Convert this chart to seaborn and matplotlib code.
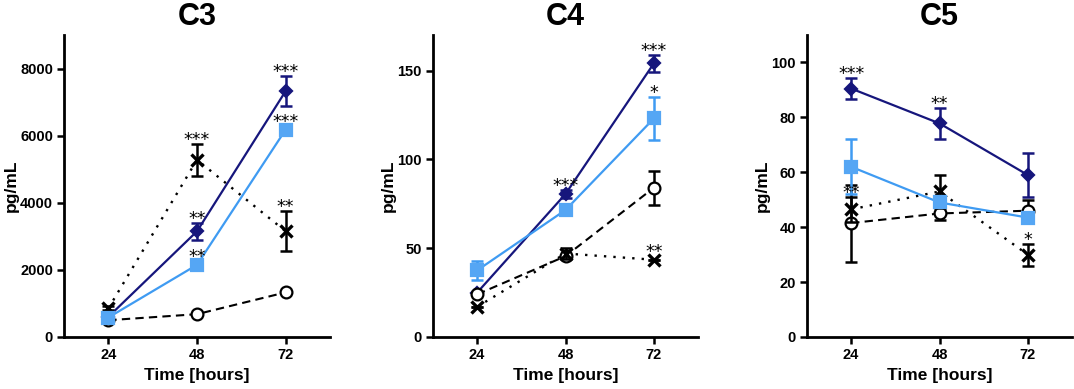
import numpy as np
import pandas as pd
import matplotlib
matplotlib.use("Agg")
import matplotlib.pyplot as plt
import seaborn as sns

sns.set_theme(style="ticks")
plt.rcParams['font.family'] = ['Liberation Sans', 'DejaVu Sans']
plt.rcParams['text.color'] = 'black'
plt.rcParams['axes.labelcolor'] = 'black'
plt.rcParams['axes.titlecolor'] = 'black'

hours = [24, 48, 72]
panels = ["C3", "C4", "C5"]
series = ["navy", "light", "cross", "circle"]

# values per panel / series
c3_navy = [600, 3150, 7330]
c3_navy_err = [60, 250, 450]
c3_light = [580, 2150, 6180]
c3_light_err = [0, 0, 0]
c3_cross = [850, 5280, 3150]
c3_cross_err = [60, 470, 600]
c3_circle = [500, 680, 1330]
c3_circle_err = [0, 0, 0]

c4_navy = [25, 80.5, 154]
c4_navy_err = [0, 2, 5]
c4_light = [37.5, 71.5, 123]
c4_light_err = [5.5, 1, 12]
c4_cross = [17, 47, 43.5]
c4_cross_err = [0, 3, 0]
c4_circle = [24, 45.5, 84]
c4_circle_err = [0, 0, 9.5]

c5_navy = [90.5, 77.8, 59]
c5_navy_err = [3.7, 5.7, 8]
c5_light = [62, 49, 43.5]
c5_light_err = [10, 1, 1]
c5_cross = [46.5, 53, 30]
c5_cross_err = [4.5, 6, 4]
c5_circle = [41.5, 45, 46]
c5_circle_err = [14, 2.5, 4]

# significance stars: (series, hour index, label)
c3_stars = [("navy", 1, "**"), ("navy", 2, "***"), ("light", 1, "**"),
            ("light", 2, "***"), ("cross", 1, "***"), ("cross", 2, "**")]
c4_stars = [("navy", 1, "***"), ("navy", 2, "***"), ("light", 2, "*"),
            ("cross", 2, "**")]
c5_stars = [("navy", 0, "***"), ("navy", 1, "**"), ("cross", 0, "**"),
            ("cross", 2, "*")]

y_limits = [(0, 9000), (0, 170), (0, 110)]
y_ticks = [[0, 2000, 4000, 6000, 8000], [0, 50, 100, 150], [0, 20, 40, 60, 80, 100]]

data = {
    "C3": {"navy": (c3_navy, c3_navy_err), "light": (c3_light, c3_light_err),
           "cross": (c3_cross, c3_cross_err), "circle": (c3_circle, c3_circle_err)},
    "C4": {"navy": (c4_navy, c4_navy_err), "light": (c4_light, c4_light_err),
           "cross": (c4_cross, c4_cross_err), "circle": (c4_circle, c4_circle_err)},
    "C5": {"navy": (c5_navy, c5_navy_err), "light": (c5_light, c5_light_err),
           "cross": (c5_cross, c5_cross_err), "circle": (c5_circle, c5_circle_err)},
}
stars = {"C3": c3_stars, "C4": c4_stars, "C5": c5_stars}

NAVY = "#16167c"
LIGHT = "#3f9bf2"
LIGHT_M = "#55a6f4"
styles = {
    "navy": dict(color=NAVY, marker="D", ms=6.5, mfc=NAVY, mec=NAVY, ls="-", lw=1.6, z=3, ecol=NAVY),
    "circle": dict(color="black", marker="o", ms=8.5, mfc="white", mec="black", ls=(0, (4, 2.5)), lw=1.5, z=4, ecol="black"),
    "cross": dict(color="black", marker="x", ms=8, mfc="black", mec="black", ls=(0, (1, 3)), lw=1.7, z=5, ecol="black"),
    "light": dict(color=LIGHT, marker="s", ms=8, mfc=LIGHT_M, mec=LIGHT_M, ls="-", lw=1.6, z=6, ecol=LIGHT),
}
order = ["navy", "circle", "cross", "light"]

fig = plt.figure(figsize=(10.74, 3.89), dpi=100)
lefts = [64, 433, 807]
rights = [330, 698, 1072]
W, H = 1074, 389
bottom_px, top_px = 337, 35

for i, p in enumerate(panels):
    ax = fig.add_axes([lefts[i] / W, 1 - bottom_px / H, (rights[i] - lefts[i]) / W,
                       (bottom_px - top_px) / H])
    for s in order:
        vals, errs = data[p][s]
        st = styles[s]
        df = pd.DataFrame({"hour": hours, "value": vals})
        ax.errorbar(hours, vals, yerr=errs, fmt="none", ecolor=st["ecol"], elinewidth=1.8,
                    capsize=4.5, capthick=1.8, zorder=st["z"] - 0.5)
        sns.lineplot(data=df, x="hour", y="value", ax=ax, color=st["color"], lw=st["lw"],
                     linestyle=st["ls"], marker=st["marker"], markersize=st["ms"],
                     markerfacecolor=st["mfc"], markeredgecolor=st["mec"],
                     markeredgewidth=2.4 if s == "cross" else 1.6, zorder=st["z"])
    ax.set_xlim(12, 84)
    ax.set_ylim(*y_limits[i])
    ax.set_xticks(hours)
    ax.set_yticks(y_ticks[i])
    ax.set_xticklabels([str(h) for h in hours], fontsize=10.5, fontweight="bold")
    ax.set_yticklabels([str(t) for t in y_ticks[i]], fontsize=10.5, fontweight="bold")
    ax.tick_params(direction="out", length=5, width=1.8, colors="black", pad=3)
    for sp in ["left", "bottom"]:
        ax.spines[sp].set_linewidth(2)
        ax.spines[sp].set_color("black")
    sns.despine(ax=ax)
    ax.set_xlabel("Time [hours]", fontsize=12.5, fontweight="bold", labelpad=4)
    ax.set_ylabel("pg/mL", fontsize=12.5, fontweight="bold", labelpad=1)
    ax.set_title(p, fontsize=22, fontweight="bold", pad=7)

    fig.canvas.draw()
    for s, k, lab in stars[p]:
        vals, errs = data[p][s]
        top = vals[k] + errs[k]
        y0 = ax.transData.transform((hours[k], vals[k]))[1]
        y1 = ax.transData.transform((hours[k], top))[1]
        err_px = y1 - y0
        off_px = max(0, 4 - err_px) - 1
        ax.annotate(lab, xy=(hours[k], top), xytext=(0, off_px * 0.72),
                    textcoords="offset points", ha="center", va="baseline",
                    fontsize=12.5, family="DejaVu Sans", color="black", zorder=10)

fig.savefig("out.png", dpi=100)
